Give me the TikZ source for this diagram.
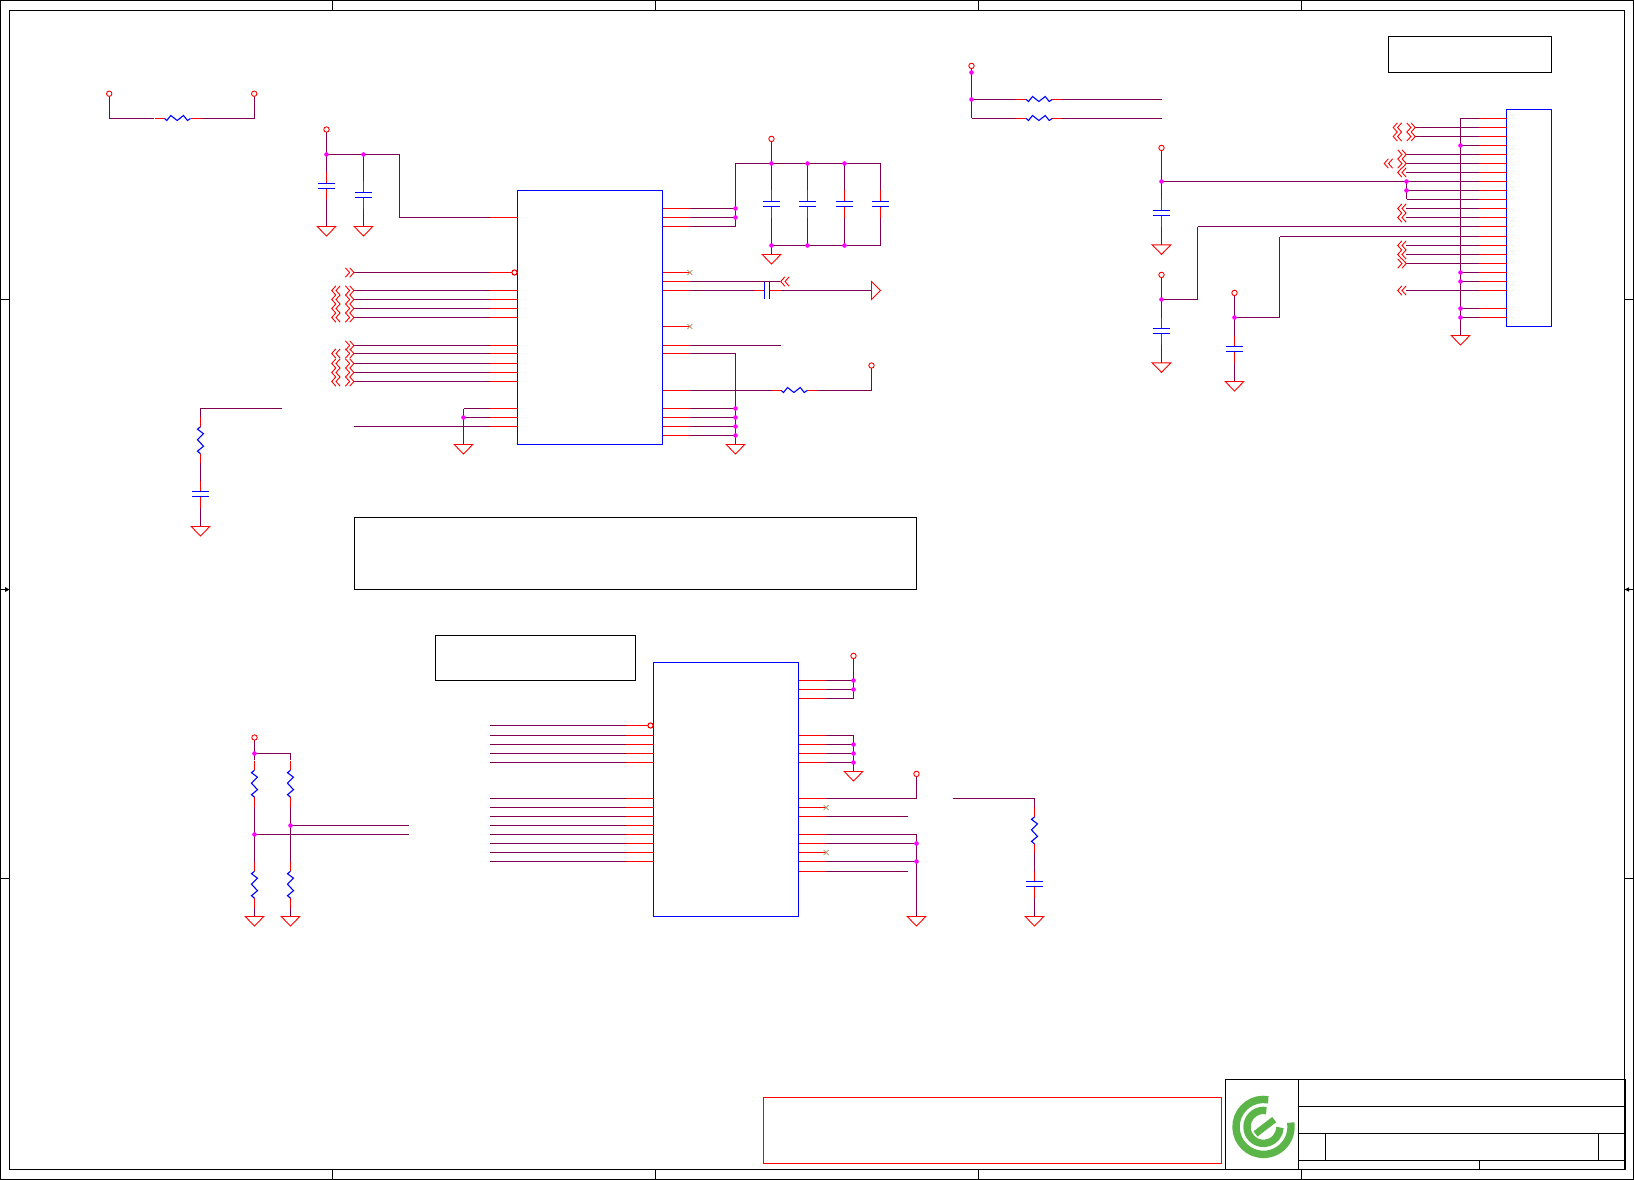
\documentclass[tikz,border=0pt]{standalone}
\definecolor{wirecol}{HTML}{7F0050}
\definecolor{logogreen}{HTML}{5BB548}
\definecolor{nccol}{HTML}{A89060}
\definecolor{dotcol}{HTML}{FF00FF}
\definecolor{purered}{HTML}{FF0000}
\definecolor{pureblue}{HTML}{0000FF}
\tikzset{
  wire/.style={draw=wirecol,line width=1.1pt},
  stub/.style={draw=purered,line width=1.1pt},
  part/.style={draw=pureblue,line width=1.1pt},
  icbox/.style={draw=pureblue,line width=1.2pt,fill=white,inner sep=0pt,outer sep=0pt,anchor=north west},
  notebox/.style={draw=black,line width=1pt,inner sep=0pt,outer sep=0pt,anchor=north west},
  symb/.style={draw=purered,line width=0.9pt},
  frameline/.style={draw=black,line width=1pt},
}
% connections of the parts
\newcommand\dotj[2]{\fill[dotcol] (#1,#2) circle[radius=2.3pt];}
\newcommand\pwr[2]{\draw[symb] (#1,#2) circle[radius=2.7pt];}
\newcommand\gnd[2]{\draw[symb] (#1-9.3,#2) -- (#1+9.3,#2) -- (#1,#2+9.5) -- cycle;}
\newcommand\capV[2]{% x, top plate y
  \draw[stub] (#1,#2-11) -- (#1,#2) (#1,#2+5) -- (#1,#2+16);
  \draw[part] (#1-8.7,#2) -- (#1+8.7,#2) (#1-8.7,#2+5) -- (#1+8.7,#2+5);}
\newcommand\capH[2]{% left plate x, y
  \draw[stub] (#1-11,#2) -- (#1,#2) (#1+5,#2) -- (#1+16,#2);
  \draw[part] (#1,#2-8.7) -- (#1,#2+8.7) (#1+5,#2-8.7) -- (#1+5,#2+8.7);}
\newcommand\resH[2]{% left end x, y
  \draw[stub] (#1-10,#2) -- (#1,#2) (#1+26,#2) -- (#1+36,#2);
  \draw[part] (#1,#2) -- (#1+2.3,#2+2) -- (#1+6.3,#2-3) -- (#1+12.7,#2+2) -- (#1+19,#2-3) -- (#1+23,#2+2) -- (#1+26,#2);}
\newcommand\resV[2]{% x, top end y
  \draw[stub] (#1,#2-9.5) -- (#1,#2) (#1,#2+27) -- (#1,#2+36.5);
  \draw[part] (#1,#2) -- (#1-3,#2+2.5) -- (#1+3,#2+7) -- (#1-3,#2+13) -- (#1+3,#2+19.5) -- (#1-3,#2+24.5) -- (#1,#2+27);}
\newcommand\chevL[2]{% left edge x, y: two chevrons pointing left
  \draw[symb] (#1+4.2,#2-4.7) -- (#1,#2) -- (#1+4.2,#2+4.7) (#1+8.5,#2-4.7) -- (#1+4.3,#2) -- (#1+8.5,#2+4.7);}
\newcommand\chevR[2]{% left edge x, y: two chevrons pointing right
  \draw[symb] (#1,#2-4.7) -- (#1+4.2,#2) -- (#1,#2+4.7) (#1+4.3,#2-4.7) -- (#1+8.5,#2) -- (#1+4.3,#2+4.7);}
\newcommand\ncmark[2]{\draw[draw=nccol,line width=0.7pt] (#1-2.5,#2-2.5) -- (#1+2.5,#2+2.5) (#1-2.5,#2+2.5) -- (#1+2.5,#2-2.5);}
\newcommand\pinL[3]{% box, y, far x
  \draw[wire] (#1.west |- 0,#2) -- (#3,#2);
  \draw[stub] (#1.west |- 0,#2) -- ++(-27.5,0);}
\newcommand\pinR[3]{% box, y, far x
  \draw[wire] (#1.east |- 0,#2) -- (#3,#2);
  \draw[stub] (#1.east |- 0,#2) -- ++(27.5,0);}
\newcommand\pinNC[2]{% box, y
  \draw[stub] (#1.east |- 0,#2) -- ++(27.5,0);
  \ncmark{826}{#2}}
\begin{document}
\begin{tikzpicture}[x=1pt,y=-1pt]
\useasboundingbox (0,0) rectangle (1634,1180);
\begin{scope}[shift={(0.2,0.2)}]
% ---------- sheet frame
\draw[frameline] (0.3,0.3) rectangle (1633.3,1179.3);
\draw[frameline] (9.3,10.3) rectangle (1624.3,1169.3);
\foreach \tx in {332.3,655.3,978.3,1301.3}{
  \draw[frameline] (\tx,0.7) -- (\tx,10.3);
  \draw[frameline] (\tx,1169.3) -- (\tx,1179.3);}
\foreach \ty in {299.3,878.3}{
  \draw[frameline] (0.7,\ty) -- (9.3,\ty);
  \draw[frameline] (1624.3,\ty) -- (1633.3,\ty);}
\draw[frameline] (0.7,589.3) -- (9.3,589.3);
\fill (9.5,589.3) -- (5,587) -- (5,591.6) -- cycle;
\draw[frameline] (1624.3,589.3) -- (1633.3,589.3);
\fill (1624.3,589.3) -- (1629,587) -- (1629,591.6) -- cycle;
% ---------- title block
\draw[draw=black,line width=1.1pt] (1225.3,1079.3) rectangle (1625.3,1169.3);
\draw[frameline] (1298.3,1079.3) -- (1298.3,1169.3);
\draw[frameline] (1298.3,1106.3) -- (1625,1106.3);
\draw[frameline] (1298.3,1133.3) -- (1625,1133.3);
\draw[frameline] (1298.3,1160.3) -- (1625,1160.3);
\draw[frameline] (1325.3,1133.3) -- (1325.3,1160.3);
\draw[frameline] (1598.3,1133.3) -- (1598.3,1160.3);
\draw[frameline] (1479.3,1160.3) -- (1479.3,1169.3);
\begin{scope}[shift={(1263.3,1126.7)},x=1pt,y=1pt]
  \draw[draw=logogreen,line width=7.4pt] (80:27.5pt) arc[start angle=80,end angle=369,radius=27.5pt];
  \draw[draw=logogreen,line width=7.4pt] (80:16.5pt) arc[start angle=80,end angle=358,radius=16.5pt];
  \draw[draw=logogreen,line width=6.6pt] (-8,-7) -- (10.7,7.3);
\end{scope}
% ---------- note boxes
\draw[draw=purered,line width=1pt] (763.3,1097.3) rectangle (1221.3,1163.3);
\node[notebox,minimum width=163pt,minimum height=36pt] (noteA) at (1388.3,36.3) {};
\node[notebox,minimum width=562pt,minimum height=72pt] (noteB) at (354.3,517.3) {};
\node[notebox,minimum width=200pt,minimum height=45pt] (noteC) at (435.3,635.3) {};
% ---------- chips
\node[icbox,minimum width=145pt,minimum height=254pt] (U1) at (517.3,190.3) {};
\node[icbox,minimum width=145pt,minimum height=254pt] (U2) at (653.3,662.3) {};
\node[icbox,minimum width=45pt,minimum height=217pt] (J1) at (1506.3,109.3) {};
% ---------- top left resistor
\draw[wire] (109.3,96) -- (109.3,118.3) -- (154,118.3);
\draw[wire] (200,118.3) -- (254.3,118.3) -- (254.3,96);
\resH{164.3}{118.3}
\pwr{109}{93.5}\pwr{254}{93.5}
% ---------- U1 supply and decoupling
\draw[wire] (326.3,132) -- (326.3,172.3) (326.3,199) -- (326.3,226.3);
\draw[wire] (363.3,154.3) -- (363.3,181) (363.3,208) -- (363.3,226.3);
\draw[wire] (326.3,154.3) -- (399.3,154.3) -- (399.3,217.3);
\pinL{U1}{217.3}{399.3}
\capV{326.3}{183.3}\capV{363.3}{192.3}
\gnd{326.3}{226.3}\gnd{363.3}{226.3}
\pwr{326.3}{129.3}\dotj{326.3}{154.3}\dotj{363.3}{154.3}
% ---------- U1 left pins
\foreach \yy in {272.3,290.3,299.3,308.3,317.3,345.3,353.3,363.3,372.3,381.3}{
  \pinL{U1}{\yy}{353.7}
  \chevR{345.2}{\yy}}
\foreach \yy in {290.3,299.3,308.3,317.3,353.3,363.3,372.3,381.3}{\chevL{331.5}{\yy}}
\draw[stub,fill=white] (514.3,272.3) circle[radius=2.6pt];
\pinL{U1}{408.3}{463.3}\pinL{U1}{417.3}{463.3}\pinL{U1}{426.3}{353.7}
\draw[wire] (463.3,408.3) -- (463.3,444.3);
\gnd{463.3}{444.3}\dotj{463.3}{417.3}
% ---------- RC on the left
\draw[wire] (281.7,408.3) -- (200.3,408.3) -- (200.3,417);
\draw[wire] (200.3,463) -- (200.3,481) (200.3,507) -- (200.3,526.3);
\resV{200.3}{426.5}\capV{200.3}{491.3}\gnd{200.3}{526.3}
% ---------- U1 right pins
\pinR{U1}{208.3}{735.3}\pinR{U1}{217.3}{735.3}\pinR{U1}{226.3}{735.3}
\draw[wire] (735.3,226.3) -- (735.3,163.3) -- (880.3,163.3) -- (880.3,245.3) -- (771.3,245.3);
\draw[wire] (771.3,141.3) -- (771.3,254.3);
\draw[wire] (807.3,163.3) -- (807.3,245.3) (844.3,163.3) -- (844.3,245.3);
\fill[white] (760,191) rectangle (890,216);
\capV{771.3}{201.3}\capV{807.3}{201.3}\capV{844.3}{201.3}\capV{880.3}{201.3}
\gnd{771.3}{254.3}\pwr{771.3}{138.7}
\foreach \xx in {771.3,807.3,844.3}{\dotj{\xx}{163.3}\dotj{\xx}{245.3}}
\dotj{735.3}{208.3}\dotj{735.3}{217.3}
\draw[stub] (U1.east |- 0,272.3) -- ++(27.5,0);\ncmark{689.7}{272.3}
\pinR{U1}{281.3}{780}\chevL{780.5}{281.3}
\pinR{U1}{290.3}{753.3}
\draw[wire] (780,290.3) -- (871.3,290.3);
\capH{764.3}{290.3}
\draw[symb] (871.3,281.3) -- (880.3,290.3) -- (871.3,299.3) -- cycle;
\draw[stub] (U1.east |- 0,326.3) -- ++(27.5,0);\ncmark{689.7}{326.3}
\pinR{U1}{345.3}{780.7}
\pinR{U1}{353.3}{735.3}
\draw[wire] (735.3,353.3) -- (735.3,444.3);
\pinR{U1}{390.3}{771.7}
\draw[wire] (817,390.3) -- (871.3,390.3) -- (871.3,368);
\resH{781}{390.3}\pwr{871.3}{365.3}
\foreach \yy in {408.3,417.3,426.3,435.3}{\pinR{U1}{\yy}{735.3}\dotj{735.3}{\yy}}
\gnd{735.3}{444.3}
% ---------- top middle resistors
\draw[wire] (971.3,68.3) -- (971.3,118.3);
\draw[wire] (971.3,99.3) -- (1016,99.3) (1062,99.3) -- (1161.7,99.3);
\draw[wire] (971.3,118.3) -- (1016,118.3) (1062,118.3) -- (1161.7,118.3);
\resH{1026}{99.3}\resH{1026}{118.3}
\pwr{971.3}{65.7}\dotj{971.3}{72.3}\dotj{971.3}{99.3}
% ---------- connector J1
\draw[wire] (1460.3,118.3) -- (1460.3,335.3);
\foreach \yy in {118.3,145.3,272.3,281.3,308.3,317.3}{\pinL{J1}{\yy}{1460.3}}
\foreach \yy in {127.3,136.3}{\pinL{J1}{\yy}{1415}\chevR{1406.5}{\yy}\chevL{1393}{\yy}}
\foreach \yy in {154.3,163.3,263.3}{\pinL{J1}{\yy}{1406}\chevR{1397.5}{\yy}}
\foreach \yy in {172.3,208.3,217.3,245.3,254.3,290.3}{\pinL{J1}{\yy}{1406}\chevL{1397.5}{\yy}}
\chevL{1384}{163.3}
\pinL{J1}{181.3}{1161.3}\pinL{J1}{190.3}{1406.3}\pinL{J1}{199.3}{1406.3}
\draw[wire] (1406.3,181.3) -- (1406.3,199.3);
\pinL{J1}{226.3}{1197.3}\pinL{J1}{236.3}{1279.3}
\gnd{1460.3}{335.3}
\foreach \yy in {145.3,272.3,281.3,308.3,317.3}{\dotj{1460.3}{\yy}}
\dotj{1406.3}{181.3}\dotj{1406.3}{190.3}
% ---------- supply caps for J1
\draw[wire] (1161.3,150.3) -- (1161.3,199.3) (1161.3,226.3) -- (1161.3,244.7);
\capV{1161.3}{210.3}\gnd{1161.3}{244.7}\pwr{1161.3}{147.7}\dotj{1161.3}{181.3}
\draw[wire] (1161.3,277.3) -- (1161.3,317.3) (1161.3,344.3) -- (1161.3,362.7);
\draw[wire] (1161.3,299.3) -- (1197.3,299.3) -- (1197.3,226.3);
\capV{1161.3}{328.3}\gnd{1161.3}{362.7}\pwr{1161.3}{274.7}\dotj{1161.3}{299.3}
\draw[wire] (1234.3,295.3) -- (1234.3,335.3) (1234.3,362.3) -- (1234.3,381.3);
\draw[wire] (1234.3,317.3) -- (1279.3,317.3) -- (1279.3,236.3);
\capV{1234.3}{346.3}\gnd{1234.3}{381.3}\pwr{1234.3}{292.7}\dotj{1234.3}{317.3}
% ---------- bottom left dividers
\draw[wire] (254.3,740) -- (254.3,760) (254.3,807) -- (254.3,861.5) (254.3,907.5) -- (254.3,916.3);
\draw[wire] (254.3,753.3) -- (290.3,753.3) -- (290.3,760);
\draw[wire] (290.3,807) -- (290.3,861.5) (290.3,907.5) -- (290.3,916.3);
\draw[wire] (290.3,825.3) -- (408.7,825.3);
\draw[wire] (254.3,834.3) -- (408.7,834.3);
\resV{254.3}{770}\resV{290.3}{770}\resV{254.3}{871}\resV{290.3}{871}
\gnd{254.3}{916.3}\gnd{290.3}{916.3}
\pwr{254.3}{737.3}\dotj{254.3}{753.3}\dotj{290.3}{825.3}\dotj{254.3}{834.3}
% ---------- U2 left pins
\foreach \yy in {725.3,735.3,744.3,753.3,762.3,798.3,807.3,816.3,825.3,834.3,843.3,852.3,861.3}{\pinL{U2}{\yy}{489.7}}
\draw[stub,fill=white] (650.3,725.3) circle[radius=2.6pt];
% ---------- U2 right pins
\foreach \yy in {680.3,689.3,698.3}{\pinR{U2}{\yy}{853.3}}
\draw[wire] (853.3,658.3) -- (853.3,698.3);
\pwr{853.3}{655.7}\dotj{853.3}{680.3}\dotj{853.3}{689.3}
\foreach \yy in {735.3,744.3,753.3,762.3}{\pinR{U2}{\yy}{853.3}}
\draw[wire] (853.3,735.3) -- (853.3,771.3);
\gnd{853.3}{771.3}\dotj{853.3}{744.3}\dotj{853.3}{753.3}\dotj{853.3}{762.3}
\pinR{U2}{798.3}{916.3}
\draw[wire] (916.3,798.3) -- (916.3,776.3);
\pwr{916.3}{773.7}
\pinNC{U2}{807.3}
\pinR{U2}{816.3}{907.7}
\pinR{U2}{834.3}{916.3}\pinR{U2}{843.3}{916.3}\pinR{U2}{861.3}{916.3}
\pinNC{U2}{852.3}
\pinR{U2}{871.3}{907.7}
\draw[wire] (916.3,834.3) -- (916.3,916.3);
\gnd{916.3}{916.3}\dotj{916.3}{843.3}\dotj{916.3}{861.3}
% ---------- bottom right RC
\draw[wire] (952.3,798.3) -- (1034.3,798.3) -- (1034.3,807);
\draw[wire] (1034.3,853) -- (1034.3,871) (1034.3,897) -- (1034.3,916.3);
\resV{1034.3}{816.7}\capV{1034.3}{881.3}\gnd{1034.3}{916.3}
\end{scope}
\end{tikzpicture}
\end{document}
